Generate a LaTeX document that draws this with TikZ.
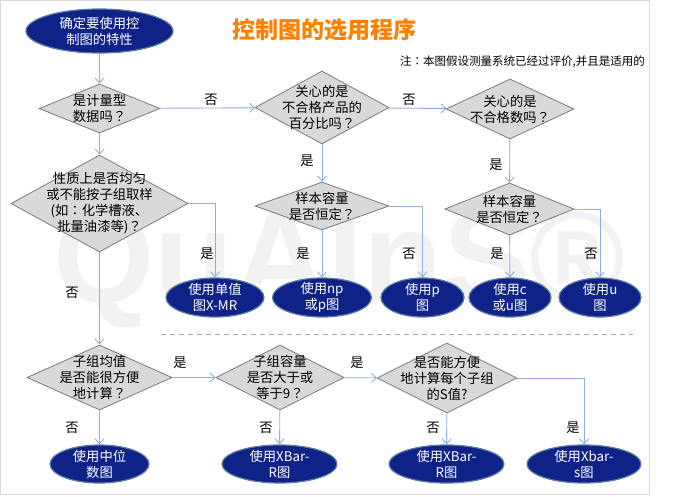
\documentclass[tikz,border=0pt]{standalone}
\usepackage{fontspec}
\setmainfont{Noto Sans CJK SC}
\newfontfamily\markfont{Liberation Sans}
\newfontfamily\puncfont{Noto Sans CJK TC}
\newcommand{\qm}{{\puncfont ？}}
\newcommand{\cl}{{\puncfont ：}}
\usepackage{xcolor}
\usetikzlibrary{shapes.geometric, arrows.meta}
\definecolor{navy}{HTML}{0E2288}
\definecolor{navyline}{HTML}{5B7DA0}
\definecolor{diafill}{HTML}{D9D9D9}
\definecolor{dialine}{HTML}{7A7A7A}
\definecolor{conn}{HTML}{8FAFDC}
\definecolor{titleorange}{HTML}{FF8000}
\definecolor{markgray}{HTML}{F2F2F2}
\tikzset{
  dtxt/.style={font=\fontsize{13.3}{16}\selectfont, align=center, text=black, inner sep=0pt},
  wtxt/.style={font=\fontsize{13.3}{16}\selectfont, align=center, text=white, inner sep=0pt},
  dia/.style 2 args={diamond, draw=dialine, fill=diafill, line width=0.8pt, inner sep=0pt, minimum width=#1pt, minimum height=#2pt},
  ell/.style 2 args={ellipse, draw=navyline, fill=navy, line width=1.2pt, inner sep=0pt, minimum width=#1pt, minimum height=#2pt},
  conn/.style={draw=conn, line width=0.9pt, -{Straight Barb[length=5pt,width=9pt]}},
  ans/.style={font=\fontsize{13.3}{16}\selectfont, text=black, inner sep=0pt},
}
\begin{document}
\begin{tikzpicture}[x=1pt, y=-1pt]
\useasboundingbox (0,0) rectangle (680,496);
\fill[white] (0,0) rectangle (680,496);
\draw[gray!30, line width=1pt] (0.5,0.5) rectangle (649,494.5);
% Watermark
\node[font=\markfont\bfseries\fontsize{130}{130}\selectfont, text=markgray, inner sep=0pt, anchor=base west] (mark) at (53,302) {QuAInS®};
% Title and note
\node[font=\fontsize{23}{26}\bfseries\selectfont, text=titleorange, inner sep=0pt] (title) at (324.5,30) {控制图的选用程序};
\node[font=\fontsize{11.5}{13}\selectfont, anchor=east, inner sep=0pt] (note) at (645,62) {注\cl 本图假设测量系统已经过评价,并且是适用的};

% Upper decisions
\node[ell={147}{44}, label={[wtxt]center:{确定要使用控\\制图的特性}}] (start) at (99.5,31) {};
\node[dia={121}{49}, label={[dtxt]center:{是计量型\\数据吗\qm}}] (isvar) at (99.5,108.5) {};
\node[dia={177}{97}, label={[dtxt]center:{性质上是否均匀\\或不能按子组取样\\(如\cl 化学槽液、\\批量油漆等)\qm}}] (nature) at (99.5,203.5) {};
\node[dia={134}{73}, label={[dtxt]center:{关心的是\\不合格产品的\\百分比吗\qm}}] (pct) at (322,107.5) {};
\node[dia={128}{60}, label={[dtxt]center:{关心的是\\不合格数吗\qm}}] (cnt) at (510,109) {};
\node[dia={134}{48}, label={[dtxt]center:{样本容量\\是否恒定\qm}}] (npsize) at (322,206) {};
\node[dia={129}{52}, label={[dtxt]center:{样本容量\\是否恒定\qm}}] (csize) at (509.5,209) {};

% Upper charts
\node[ell={98}{39}, label={[wtxt]center:{使用单值\\图X-MR}}] (xmr) at (215,297.5) {};
\node[ell={99}{39}, label={[wtxt]center:{使用np\\或p图}}] (npchart) at (322,297.5) {};
\node[ell={83}{39}, label={[wtxt]center:{使用p\\图}}] (pchart) at (422.5,297.5) {};
\node[ell={82}{39}, label={[wtxt]center:{使用c\\或u图}}] (cchart) at (510,297.5) {};
\node[ell={82}{39}, label={[wtxt]center:{使用u\\图}}] (uchart) at (600,297.5) {};

% Separator
\coordinate (sepa) at (161,334);
\coordinate (sepb) at (633,334);
\draw[gray!70, dash pattern=on 5pt off 4pt, line width=0.8pt] (sepa) -- (sepb);

% Lower decisions
\node[dia={145}{65}, label={[dtxt]center:{子组均值\\是否能很方便\\地计算\qm}}] (mean) at (99.5,377.5) {};
\node[dia={128}{65}, label={[dtxt]center:{子组容量\\是否大于或\\等于9\qm}}] (nine) at (280,377.5) {};
\node[dia={140}{70}, label={[dtxt]center:{是否能方便\\地计算每个子组\\的S值?}}] (sval) at (447,378) {};

% Lower charts
\node[ell={99}{38}, label={[wtxt]center:{使用中位\\数图}}] (median) at (99.5,464) {};
\node[ell={115}{38}, label={[wtxt]center:{使用XBar-\\R图}}] (xbarr) at (279.5,464) {};
\node[ell={115}{38}, label={[wtxt]center:{使用XBar-\\R图}}] (xbarrb) at (446.5,464) {};
\node[ell={114}{38}, label={[wtxt]center:{使用Xbar-\\s图}}] (xbars) at (584,464) {};

% Connectors
\draw[conn] (start) -- (isvar);
\draw[conn] (isvar) -- (nature);
\draw[conn] (isvar) -- (pct);
\draw[conn] (pct) -- (cnt);
\draw[conn] (pct) -- (npsize);
\draw[conn] (cnt) -- (csize);
\draw[conn] (nature.east) -| (xmr.north);
\draw[conn] (npsize) -- (npchart);
\draw[conn] (npsize.east) -| (pchart.north);
\draw[conn] (csize) -- (cchart);
\draw[conn] (csize.east) -| (uchart.north);
\draw[conn] (nature) -- (mean);
\draw[conn] (mean) -- (median);
\draw[conn] (mean) -- (nine);
\draw[conn] (nine) -- (xbarr);
\draw[conn] (nine) -- (sval);
\draw[conn] (sval) -- (xbarrb);
\draw[conn] (sval.east) -| (xbars.north);

% Answers
\node[ans] (a1) at (211,100) {否};
\node[ans] (a2) at (409,100) {否};
\node[ans] (a3) at (307,161) {是};
\node[ans] (a4) at (496,165) {是};
\node[ans] (a5) at (207,254) {是};
\node[ans] (a6) at (303,254) {是};
\node[ans] (a7) at (409,254) {否};
\node[ans] (a8) at (497,254) {是};
\node[ans] (a9) at (591,254) {否};
\node[ans] (a10) at (72,293) {否};
\node[ans] (a11) at (180,363) {是};
\node[ans] (a12) at (357,363) {是};
\node[ans] (a13) at (72,428) {否};
\node[ans] (a14) at (266,428) {否};
\node[ans] (a15) at (433,428) {否};
\node[ans] (a16) at (573,428) {是};
\end{tikzpicture}
\end{document}
